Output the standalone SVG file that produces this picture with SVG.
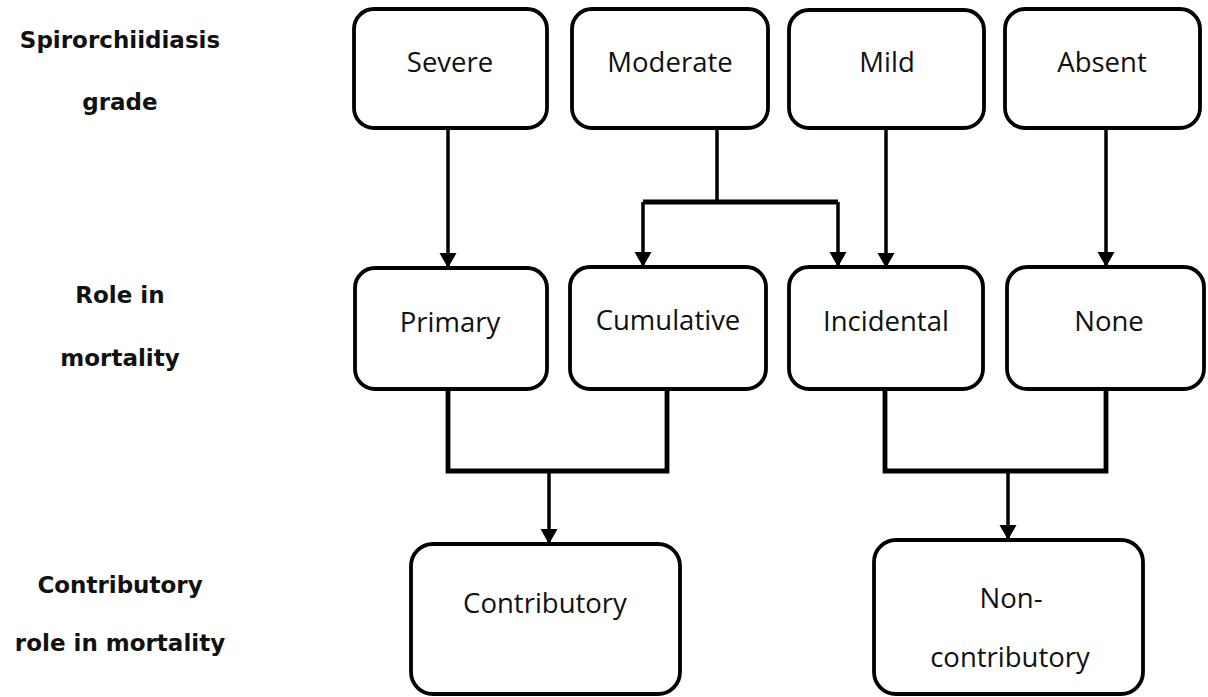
<svg xmlns="http://www.w3.org/2000/svg" width="1208" height="697" viewBox="0 0 1208 697">
  <style>
    .box { fill: #ffffff; stroke: #000000; stroke-width: 3.8; }
    .lbl { font-family: "Open Sans", "Liberation Sans", sans-serif; font-size: 27.5px; fill: #111111; text-anchor: middle; }
    .side { font-family: "DejaVu Sans", "Liberation Sans", sans-serif; font-weight: bold; font-size: 23px; fill: #111111; text-anchor: middle; }
    .wire { fill: none; stroke: #000000; stroke-width: 3.5; }
    .bar { fill: none; stroke: #000000; stroke-width: 4.8; }
  </style>
  <defs>
    <marker id="arrow" markerUnits="userSpaceOnUse" markerWidth="18" markerHeight="18" refX="15" refY="8.5" orient="auto">
      <path d="M0,0 L15,8.5 L0,17 Z" fill="#000000"/>
    </marker>
  </defs>
  <rect width="1208" height="697" fill="#ffffff"/>

  <!-- row headings -->
  <g id="heading-grade">
    <text class="side" x="120" y="48">Spirorchiidiasis</text>
    <text class="side" x="120" y="110">grade</text>
  </g>
  <g id="heading-role">
    <text class="side" x="120" y="303">Role in</text>
    <text class="side" x="120" y="366">mortality</text>
  </g>
  <g id="heading-contrib">
    <text class="side" x="120" y="593">Contributory</text>
    <text class="side" x="120" y="651">role in mortality</text>
  </g>

  <!-- connectors -->
  <g id="connectors">
    <path class="wire" d="M448,128 V268" marker-end="url(#arrow)"/>
    <path class="wire" d="M717,128 V202"/>
    <path class="bar" d="M643,202 H838"/>
    <path class="wire" d="M643,202 V267" marker-end="url(#arrow)"/>
    <path class="wire" d="M838,202 V267" marker-end="url(#arrow)"/>
    <path class="wire" d="M886,128 V268" marker-end="url(#arrow)"/>
    <path class="wire" d="M1106,128 V267" marker-end="url(#arrow)"/>
    <path class="bar" d="M448,389 V471 H667 V389"/>
    <path class="wire" d="M549,471 V544" marker-end="url(#arrow)"/>
    <path class="bar" d="M885,389 V471 H1106 V389"/>
    <path class="wire" d="M1008,471 V540" marker-end="url(#arrow)"/>
  </g>

  <!-- grade nodes -->
  <g id="severe">
    <rect class="box" x="354" y="9" width="193" height="119" rx="20"/>
    <text class="lbl" x="450" y="72">Severe</text>
  </g>
  <g id="moderate">
    <rect class="box" x="572" y="9" width="196" height="119" rx="20"/>
    <text class="lbl" x="670" y="72">Moderate</text>
  </g>
  <g id="mild">
    <rect class="box" x="789" y="10" width="195" height="118" rx="20"/>
    <text class="lbl" x="887" y="72">Mild</text>
  </g>
  <g id="absent">
    <rect class="box" x="1005" y="9" width="195" height="119" rx="20"/>
    <text class="lbl" x="1102" y="72">Absent</text>
  </g>

  <!-- role nodes -->
  <g id="primary">
    <rect class="box" x="355" y="268" width="192" height="121" rx="20"/>
    <text class="lbl" x="450" y="332">Primary</text>
  </g>
  <g id="cumulative">
    <rect class="box" x="570" y="267" width="196" height="122" rx="20"/>
    <text class="lbl" x="668" y="330">Cumulative</text>
  </g>
  <g id="incidental">
    <rect class="box" x="789" y="267" width="194" height="122" rx="20"/>
    <text class="lbl" x="886" y="331">Incidental</text>
  </g>
  <g id="none">
    <rect class="box" x="1007" y="267" width="197" height="122" rx="20"/>
    <text class="lbl" x="1109" y="331">None</text>
  </g>

  <!-- contribution nodes -->
  <g id="contributory">
    <rect class="box" x="411" y="544" width="269" height="150" rx="22"/>
    <text class="lbl" x="545" y="613">Contributory</text>
  </g>
  <g id="non-contributory">
    <rect class="box" x="874" y="540" width="269" height="154" rx="22"/>
    <text class="lbl" x="1011" y="608">Non-</text>
    <text class="lbl" x="1010" y="667">contributory</text>
  </g>
</svg>
